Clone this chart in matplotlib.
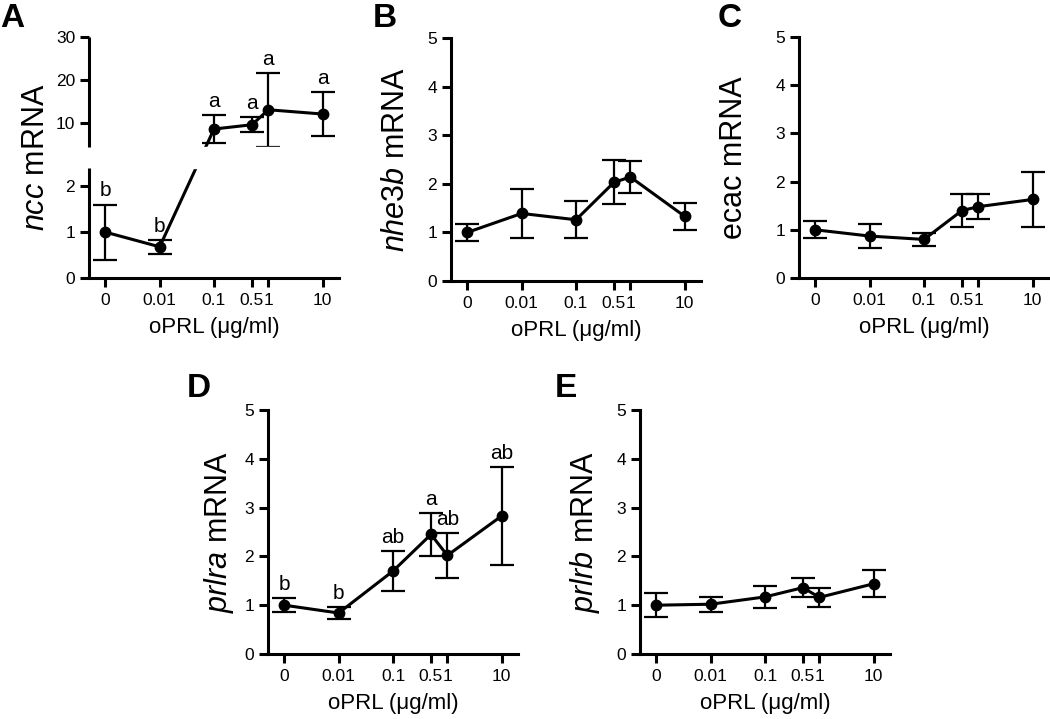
import numpy as np
import matplotlib.pyplot as plt

plt.rcParams['font.family'] = 'Liberation Sans'
plt.rcParams['mathtext.fontset'] = 'custom'
plt.rcParams['mathtext.it'] = 'Liberation Sans:italic'
plt.rcParams['mathtext.rm'] = 'Liberation Sans'
for a in ['xtick', 'ytick']:
    plt.rcParams[a + '.major.size'] = 6.5
    plt.rcParams[a + '.major.width'] = 2.2
    plt.rcParams[a + '.labelsize'] = 12.5
    plt.rcParams[a + '.direction'] = 'out'
plt.rcParams['xtick.major.pad'] = 4
plt.rcParams['ytick.major.pad'] = 3.5

# oPRL doses (ug/ml); 0 is drawn one decade below 0.01 on the log axis
doses = [0, 0.01, 0.1, 0.5, 1, 10]
dose_labels = ['0', '0.01', '0.1', '0.5', '1', '10']

ncc_mean = [1.0, 0.68, 8.5, 9.5, 13.0, 12.0]
ncc_err = [0.6, 0.15, 3.3, 1.8, 8.6, 5.2]
ncc_letters = ['b', 'b', 'a', 'a', 'a', 'a']

nhe3b_mean = [1.0, 1.39, 1.26, 2.03, 2.14, 1.33]
nhe3b_err = [0.18, 0.51, 0.38, 0.45, 0.33, 0.28]

ecac_mean = [1.0, 0.87, 0.80, 1.40, 1.48, 1.63]
ecac_err = [0.18, 0.25, 0.14, 0.34, 0.26, 0.57]

prlra_mean = [1.0, 0.84, 1.70, 2.45, 2.02, 2.83]
prlra_err = [0.14, 0.12, 0.41, 0.44, 0.46, 1.0]
prlra_letters = ['b', 'b', 'ab', 'a', 'ab', 'ab']

prlrb_mean = [1.0, 1.02, 1.17, 1.36, 1.16, 1.44]
prlrb_err = [0.25, 0.15, 0.22, 0.19, 0.19, 0.28]

# broken y axis of panel A
lo_top = 2.4
hi_bot = 4.4
gap = 0.465
k_hi = 0.0933

W, H = 1050, 719
LW = 2.2


def fwd(y):
    y = np.asarray(y, dtype=float)
    mid = lo_top + (y - lo_top) / (hi_bot - lo_top) * gap
    hi = lo_top + gap + (y - hi_bot) * k_hi
    return np.where(y <= lo_top, y, np.where(y >= hi_bot, hi, mid))


def inv(z):
    z = np.asarray(z, dtype=float)
    mid = lo_top + (z - lo_top) / gap * (hi_bot - lo_top)
    hi = hi_bot + (z - lo_top - gap) / k_hi
    return np.where(z <= lo_top, z, np.where(z >= lo_top + gap, hi, mid))


def px_rect(left, top, right, bottom):
    return [left / W, 1 - bottom / H, (right - left) / W, (bottom - top) / H]


def draw_panel(fig, rect, mean, err, ylabel, label_x, letters=None, broken=False):
    ax = fig.add_axes(rect)
    xpos = [d if d > 0 else 1e-3 for d in doses]

    if broken:
        ax.set_yscale('function', functions=(fwd, inv))

    ax.errorbar(xpos, mean, yerr=err, fmt='o-', color='black', ms=7.5, lw=LW,
                elinewidth=1.6, capsize=8.5, capthick=1.6, zorder=3)

    ax.set_xscale('log')
    ax.set_xlim(10 ** -3.3, 10 ** 1.3)
    ax.set_xticks(xpos, dose_labels)
    ax.minorticks_off()

    for s in ['top', 'right']:
        ax.spines[s].set_visible(False)
    ax.spines['bottom'].set_linewidth(LW)
    ax.spines['left'].set_linewidth(LW)

    if broken:
        ax.set_ylim(0, 30)
        ax.set_yticks([0, 1, 2, 10, 20, 30], ['0', '1', '2', '10', '20', '30'])
        ax.spines['left'].set_visible(False)
        ax.axhspan(lo_top, hi_bot, color='white', zorder=4)
        tr = ax.get_yaxis_transform()
        ax.plot([0, 0], [0, lo_top], color='black', lw=LW, transform=tr,
                clip_on=False, zorder=5, solid_capstyle='butt')
        ax.plot([0, 0], [hi_bot, 30], color='black', lw=LW, transform=tr,
                clip_on=False, zorder=5, solid_capstyle='butt')
    else:
        ax.set_ylim(0, 5)
        ax.set_yticks([0, 1, 2, 3, 4, 5])

    if letters is not None:
        for x, m, e, t in zip(xpos, mean, err, letters):
            ax.annotate(t, (x, m + e), xytext=(0, 3), textcoords='offset points',
                        ha='center', va='bottom', fontsize=15)

    ax.set_ylabel(ylabel, fontsize=22)
    ax.yaxis.set_label_coords(label_x, 0.5)
    ax.set_xlabel('oPRL (\u03bcg/ml)', fontsize=16)
    ax.xaxis.set_label_coords(0.5, -0.16)
    return ax


fig = plt.figure(figsize=(W / 100, H / 100), dpi=100)

draw_panel(fig, px_rect(89, 37, 339, 278), ncc_mean, ncc_err,
           r'$\mathit{ncc}$ mRNA', -0.15, letters=ncc_letters, broken=True)
draw_panel(fig, px_rect(451, 38, 701, 281), nhe3b_mean, nhe3b_err,
           r'$\mathit{nhe3b}$ mRNA', -0.162)
draw_panel(fig, px_rect(799, 37, 1049, 278), ecac_mean, ecac_err,
           'ecac mRNA', -0.2)
draw_panel(fig, px_rect(268, 410, 518, 654), prlra_mean, prlra_err,
           r'$\mathit{prlra}$ mRNA', -0.126, letters=prlra_letters)
draw_panel(fig, px_rect(640, 410, 890, 654), prlrb_mean, prlrb_err,
           r'$\mathit{prlrb}$ mRNA', -0.154)

panel_letters = [('A', 0, 27), ('B', 373, 27), ('C', 718, 27), ('D', 187, 397), ('E', 555, 397)]
for t, x, y in panel_letters:
    fig.text(x / W, 1 - y / H, t, fontsize=24, fontweight='bold', va='baseline', ha='left')

fig.savefig('out.png', dpi=100)
